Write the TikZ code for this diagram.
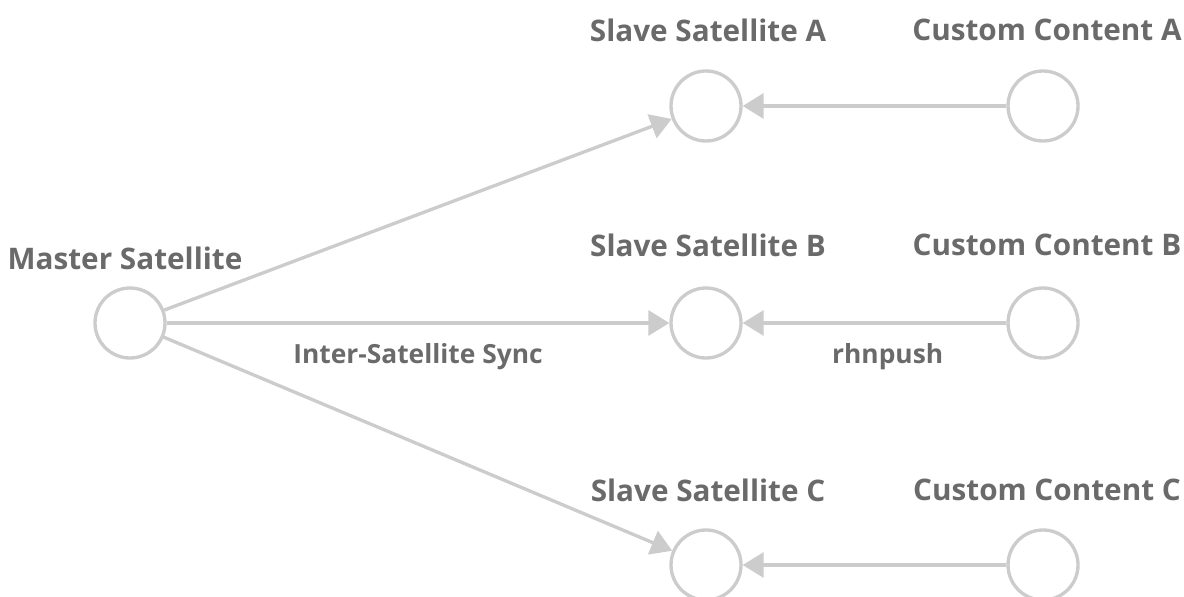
\documentclass[tikz,border=0pt]{standalone}
\usepackage{fontspec}
\setmainfont{Open Sans}
\usetikzlibrary{arrows.meta, positioning}
\definecolor{ringgray}{RGB}{204,204,204}
\definecolor{textgray}{RGB}{106,106,106}

\begin{document}
\begin{tikzpicture}[
  sat/.style={circle, draw=ringgray, line width=1.9pt, fill=white, minimum size=1.4cm, inner sep=0pt},
  title/.style={text=textgray, font=\fontsize{16.9}{19}\selectfont\bfseries},
  edgetext/.style={text=textgray, font=\fontsize{15}{17}\selectfont\bfseries},
  feed/.style={draw=ringgray, line width=1.9pt, -{Triangle[length=0.42cm, width=0.5cm]}}
]
\useasboundingbox (0,0) rectangle (23.68,11.92);

% Satellites
\node[sat] (master) at (2.6,5.46) {};
\node[sat] (slaveA) at (14.12,9.8) {};
\node[sat] (slaveB) at (14.12,5.46) {};
\node[sat] (slaveC) at (14.12,0.62) {};

% Custom content sources
\node[sat] (customA) at (20.86,9.8) {};
\node[sat] (customB) at (20.86,5.46) {};
\node[sat] (customC) at (20.86,0.62) {};

% Titles
\node[title] (masterT) at (2.5,6.76) {Master Satellite};
\node[title] (slaveAT) at (14.16,11.32) {Slave Satellite A};
\node[title] (slaveBT) at (14.16,7.02) {Slave Satellite B};
\node[title] (slaveCT) at (14.16,2.12) {Slave Satellite C};
\node[title] (customAT) at (20.94,11.32) {Custom Content A};
\node[title] (customBT) at (20.94,7.02) {Custom Content B};
\node[title] (customCT) at (20.94,2.12) {Custom Content C};

% Sync links
\draw[feed] (master) -- (slaveA);
\draw[feed] (master) -- node[edgetext, below=0.25cm] {Inter-Satellite Sync} (slaveB);
\draw[feed] (master) -- (slaveC);

% Content pushes
\draw[feed] (customA) -- (slaveA);
\draw[feed] (customB) -- node[edgetext, pos=0.45, below=0.25cm] {rhnpush} (slaveB);
\draw[feed] (customC) -- (slaveC);
\end{tikzpicture}
\end{document}
